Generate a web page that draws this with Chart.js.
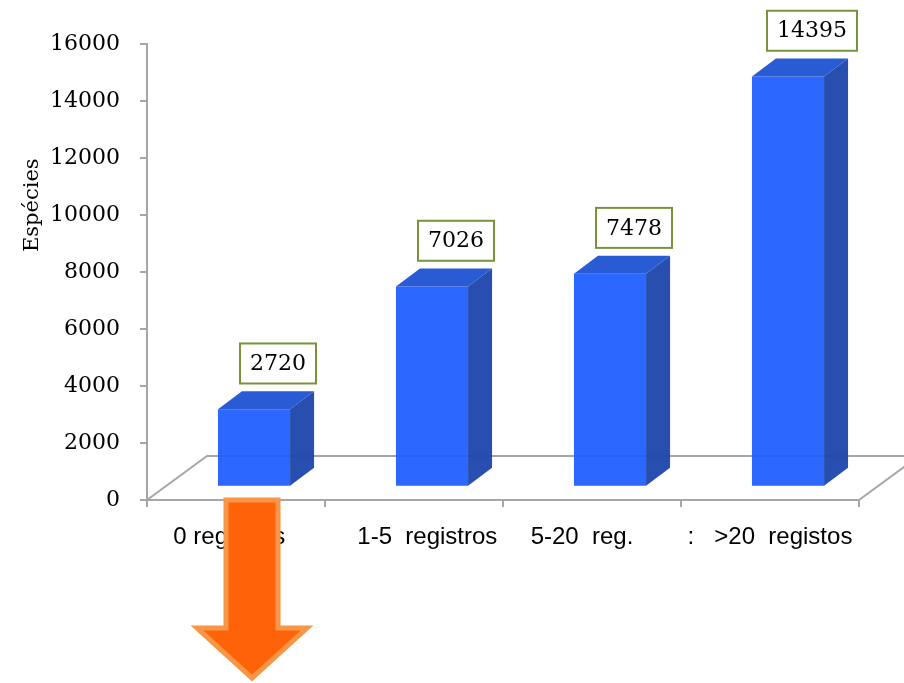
<!DOCTYPE html>
<html>
<head>
<meta charset="utf-8">
<script src="https://cdn.jsdelivr.net/npm/chart.js@4.4.1/dist/chart.umd.min.js"></script>
<style>
  html, body { margin: 0; padding: 0; background: #fff; }
  #wrap { width: 904px; height: 683px; position: relative; }
</style>
</head>
<body>
<div id="wrap"><canvas id="chart"></canvas></div>
<script>
// ---- data ----
const categorias = ['0 registros  ', '    1-5  registros', '5-20  reg.   ', ':   >20  registos'];
const especies = [2720, 7026, 7478, 14395];
const yTicks = [0, 2000, 4000, 6000, 8000, 10000, 12000, 14000, 16000];
const yTitulo = 'Espécies';

// ---- look ----
const GRID = '#a6a6a6';
const FRONT = 'rgba(28,92,255,0.93)';
const TOP = 'rgba(34,86,212,0.97)';
const SIDE = 'rgba(33,72,172,0.97)';
const FLOOR = { dx: 60, dy: -44 };   // depth of the floor
const DEPTH = { dx: 24, dy: -18 };   // depth of one bar
const SERIF = '"DejaVu Serif", serif';
const SANS = '"Liberation Sans", Arial, sans-serif';

function poly(ctx, pts, fill) {
  ctx.beginPath();
  ctx.moveTo(pts[0][0], pts[0][1]);
  for (let i = 1; i < pts.length; i++) ctx.lineTo(pts[i][0], pts[i][1]);
  ctx.closePath();
  ctx.fillStyle = fill;
  ctx.fill();
}

// floor + 3D faces of the bars
const bar3d = {
  id: 'bar3d',
  beforeDatasetsDraw(chart) {
    const { ctx, chartArea: a } = chart;
    ctx.save();
    ctx.strokeStyle = GRID;
    ctx.lineWidth = 2;
    ctx.beginPath();
    ctx.moveTo(a.left, a.bottom);
    ctx.lineTo(a.left + FLOOR.dx, a.bottom + FLOOR.dy);
    ctx.lineTo(a.right + FLOOR.dx + 40, a.bottom + FLOOR.dy);
    ctx.moveTo(a.right, a.bottom);
    ctx.lineTo(a.right + FLOOR.dx, a.bottom + FLOOR.dy);
    ctx.stroke();
    ctx.restore();
    // bars sit a bit back inside the floor
    ctx.save();
    ctx.translate(FLOOR.dx * 0.3, FLOOR.dy * 0.3);
  },
  afterDatasetsDraw(chart) {
    const ctx = chart.ctx;
    chart.getDatasetMeta(0).data.forEach(b => {
      const l = b.x - b.width / 2, r = b.x + b.width / 2;
      poly(ctx, [[l, b.y], [r, b.y], [r + DEPTH.dx, b.y + DEPTH.dy], [l + DEPTH.dx, b.y + DEPTH.dy]], TOP);
      poly(ctx, [[r, b.y], [r + DEPTH.dx, b.y + DEPTH.dy], [r + DEPTH.dx, b.base + DEPTH.dy], [r, b.base]], SIDE);
    });
    ctx.restore();
  }
};

// value boxes + orange arrow
const extras = {
  id: 'extras',
  afterDraw(chart) {
    const { ctx, chartArea: a } = chart;
    const meta = chart.getDatasetMeta(0);
    ctx.save();
    ctx.font = '22px ' + SERIF;
    ctx.textAlign = 'center';
    ctx.textBaseline = 'middle';
    meta.data.forEach((b, i) => {
      const txt = String(especies[i]);
      const w = ctx.measureText(txt).width + 20, h = 40;
      const cx = b.x + 42, bottom = b.y - 39;
      ctx.fillStyle = '#fff';
      ctx.fillRect(cx - w / 2, bottom - h, w, h);
      ctx.strokeStyle = '#77933c';
      ctx.lineWidth = 2;
      ctx.strokeRect(cx - w / 2, bottom - h, w, h);
      ctx.fillStyle = '#000';
      ctx.fillText(txt, cx, bottom - h / 2 + 1);
    });

    // arrow under the first category
    const cx = chart.scales.x.getPixelForValue(0) + 16;
    const top = a.bottom, neck = 628, tip = 678;
    ctx.beginPath();
    ctx.moveTo(cx - 26, top);
    ctx.lineTo(cx + 26, top);
    ctx.lineTo(cx + 26, neck);
    ctx.lineTo(cx + 55, neck);
    ctx.lineTo(cx, tip);
    ctx.lineTo(cx - 55, neck);
    ctx.lineTo(cx - 26, neck);
    ctx.closePath();
    ctx.fillStyle = '#ff6309';
    ctx.fill();
    ctx.lineWidth = 5;
    ctx.lineJoin = 'miter';
    ctx.strokeStyle = '#f79646';
    ctx.stroke();
    ctx.restore();
  }
};

new Chart(document.getElementById('chart'), {
  type: 'bar',
  data: {
    labels: categorias,
    datasets: [{
      data: especies,
      backgroundColor: FRONT,
      borderWidth: 0,
      categoryPercentage: 1,
      barPercentage: 0.405,
      clip: false
    }]
  },
  options: {
    responsive: true,
    maintainAspectRatio: false,
    animation: false,
    layout: { padding: { top: 44, right: 45, left: 0, bottom: 0 } },
    plugins: { legend: { display: false }, tooltip: { enabled: false } },
    scales: {
      x: {
        grid: { drawOnChartArea: false, color: GRID, lineWidth: 2, tickLength: 7, offset: true },
        border: { display: true, color: GRID, width: 2 },
        ticks: { color: '#000', font: { family: SANS, size: 24 }, padding: 16, maxRotation: 0, autoSkip: false },
        afterFit: s => { s.height = 183; }
      },
      y: {
        min: 0, max: 16000,
        afterBuildTicks: s => { s.ticks = yTicks.map(v => ({ value: v })); },
        grid: { drawOnChartArea: false, color: GRID, lineWidth: 2, tickLength: 7 },
        border: { display: true, color: GRID, width: 2 },
        ticks: { color: '#000', font: { family: SERIF, size: 22 }, padding: 20, callback: v => String(v) },
        title: {
          display: true,
          text: ' '.repeat(20) + yTitulo,
          color: '#000',
          font: { family: SERIF, size: 21 },
          padding: { top: 20, bottom: 0 }
        },
        afterFit: s => { s.width = 147; }
      }
    }
  },
  plugins: [bar3d, extras]
});
</script>
</body>
</html>
